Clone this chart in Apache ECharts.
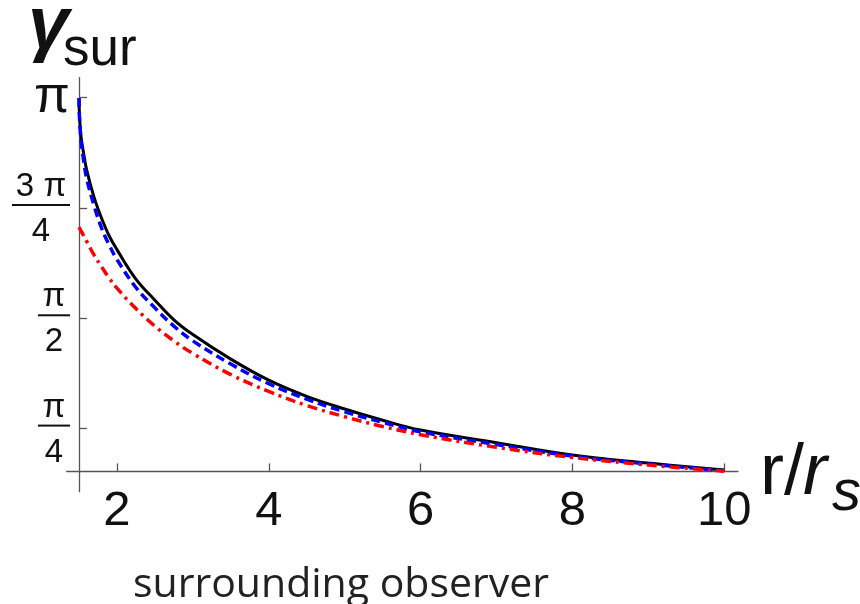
<!DOCTYPE html>
<html>
<head>
<meta charset="utf-8">
<script src="https://cdn.jsdelivr.net/npm/echarts@6/dist/echarts.min.js"></script>
<style>
  html, body { margin: 0; padding: 0; background: #fff; }
  #chart { width: 860px; height: 604px; }
</style>
</head>
<body>
<div id="chart"></div>
<script>
// r / r_s sample points
const rValues = [1.5, 1.505, 1.515, 1.53, 1.56, 1.6, 1.7, 1.8, 1.9, 2.0, 2.25, 2.5, 2.75, 3.0, 3.5, 4.0, 4.5, 5.0, 5.5, 6.0, 7.0, 8.0, 9.0, 10.0]
const blackValues = [3.14, 3.03, 2.94, 2.85, 2.75, 2.63, 2.43, 2.28, 2.155, 2.06, 1.85, 1.70, 1.56, 1.455, 1.28, 1.13, 1.015, 0.925, 0.845, 0.775, 0.685, 0.597, 0.54, 0.49]
const blueValues = [3.14, 3.02, 2.92, 2.82, 2.70, 2.57, 2.37, 2.21, 2.09, 1.99, 1.79, 1.645, 1.515, 1.41, 1.245, 1.105, 0.995, 0.905, 0.83, 0.763, 0.672, 0.59, 0.533, 0.486]
const redValues = [2.22, 2.215, 2.205, 2.19, 2.16, 2.12, 2.02, 1.935, 1.855, 1.785, 1.64, 1.515, 1.41, 1.32, 1.17, 1.05, 0.95, 0.87, 0.80, 0.742, 0.652, 0.58, 0.526, 0.482]

const xTicks = [2, 4, 6, 8, 10]
const yTicks = [Math.PI / 4, Math.PI / 2, 3 * Math.PI / 4, Math.PI]
const yTickNum = ['π', 'π', '3 π', 'π']
const yTickDen = ['4', '2', '4', '']

const pairs = ys => rValues.map((r, i) => [r, ys[i]])

const yLabel = val => {
  let i = 0
  yTicks.forEach((t, k) => { if (Math.abs(t - val) < Math.abs(yTicks[i] - val)) i = k })
  if (!yTickDen[i]) return '{big|' + yTickNum[i] + '}'
  const w = yTickNum[i].length > 1 ? 'w' : ''
  return '{sp| }\n{n' + w + '|' + yTickNum[i] + '}\n{b' + w + '| }\n{d' + w + '|' + yTickDen[i] + '}'
}

const chart = echarts.init(document.getElementById('chart'))

const fracText = { fontSize: 33, fontFamily: 'Liberation Sans', color: '#111', align: 'center' }
const option = {
  animation: false,
  backgroundColor: '#fff',
  grid: { left: 66.7, right: 122, top: 77.7, bottom: 112.3 },
  xAxis: {
    type: 'value',
    min: 1.338,
    max: 10.182,
    offset: -20.2,
    splitLine: { show: false },
    axisLine: { show: true, onZero: false, lineStyle: { color: '#555', width: 1.3 } },
    axisTick: { show: true, inside: true, length: 8, customValues: xTicks, lineStyle: { color: '#555', width: 1.3 } },
    axisLabel: {
      customValues: xTicks,
      margin: 15,
      fontSize: 49,
      fontFamily: 'Liberation Sans',
      color: '#111'
    }
  },
  yAxis: {
    type: 'value',
    min: 0.336,
    max: 3.284,
    offset: -12.3,
    splitLine: { show: false },
    axisLine: { show: true, onZero: false, lineStyle: { color: '#555', width: 1.3 } },
    axisTick: { show: true, inside: true, length: 8, customValues: yTicks, lineStyle: { color: '#555', width: 1.3 } },
    axisLabel: {
      customValues: yTicks,
      margin: 9,
      formatter: yLabel,
      rich: {
        big: { fontSize: 52, fontFamily: 'Liberation Sans', color: '#111', lineHeight: 52 },
        sp: { fontSize: 4, lineHeight: 12 },
        n: Object.assign({ width: 32, lineHeight: 32 }, fracText),
        b: { width: 32, height: 2, lineHeight: 4, backgroundColor: '#111' },
        d: Object.assign({ width: 32, lineHeight: 50 }, fracText),
        nw: Object.assign({ width: 58, lineHeight: 32 }, fracText),
        bw: { width: 58, height: 2, lineHeight: 4, backgroundColor: '#111' },
        dw: Object.assign({ width: 58, lineHeight: 50 }, fracText)
      }
    }
  },
  graphic: [
    { type: 'text', style: { text: 'γ', x: 28, y: 28, fontSize: 74, fontStyle: 'italic', fontWeight: 'bold', fontFamily: 'Liberation Sans', fill: '#111', verticalAlign: 'middle' } },
    { type: 'text', style: { text: 'sur', x: 63, y: 50, fontSize: 53, fontFamily: 'Liberation Sans', fill: '#111', verticalAlign: 'middle' } },
    { type: 'text', style: { text: 'r/', x: 760, y: 474, fontSize: 72, fontFamily: 'Liberation Sans', fill: '#111', verticalAlign: 'middle' } },
    { type: 'text', style: { text: 'r', x: 803, y: 474, fontSize: 72, fontStyle: 'italic', fontFamily: 'Liberation Sans', fill: '#111', verticalAlign: 'middle' } },
    { type: 'text', style: { text: 's', x: 832, y: 494, fontSize: 58, fontStyle: 'italic', fontFamily: 'Liberation Sans', fill: '#111', verticalAlign: 'middle' } },
    { type: 'text', style: { text: 'surrounding observer', x: 133, y: 585, fontSize: 41, fontFamily: 'Open Sans', fill: '#222', verticalAlign: 'middle' } }
  ],
  series: [
    {
      type: 'line', data: pairs(blackValues), showSymbol: false, smooth: 0.4,
      lineStyle: { color: '#000', width: 3 }
    },
    {
      type: 'line', data: pairs(blueValues), showSymbol: false, smooth: 0.4,
      lineStyle: { color: '#0000ff', width: 3.5, type: [9, 5] }
    },
    {
      type: 'line', data: pairs(redValues), showSymbol: false, smooth: 0.4,
      lineStyle: { color: '#ff0000', width: 3.5, type: [10, 5, 3, 5] }
    }
  ]
}

chart.setOption(option)
</script>
</body>
</html>
